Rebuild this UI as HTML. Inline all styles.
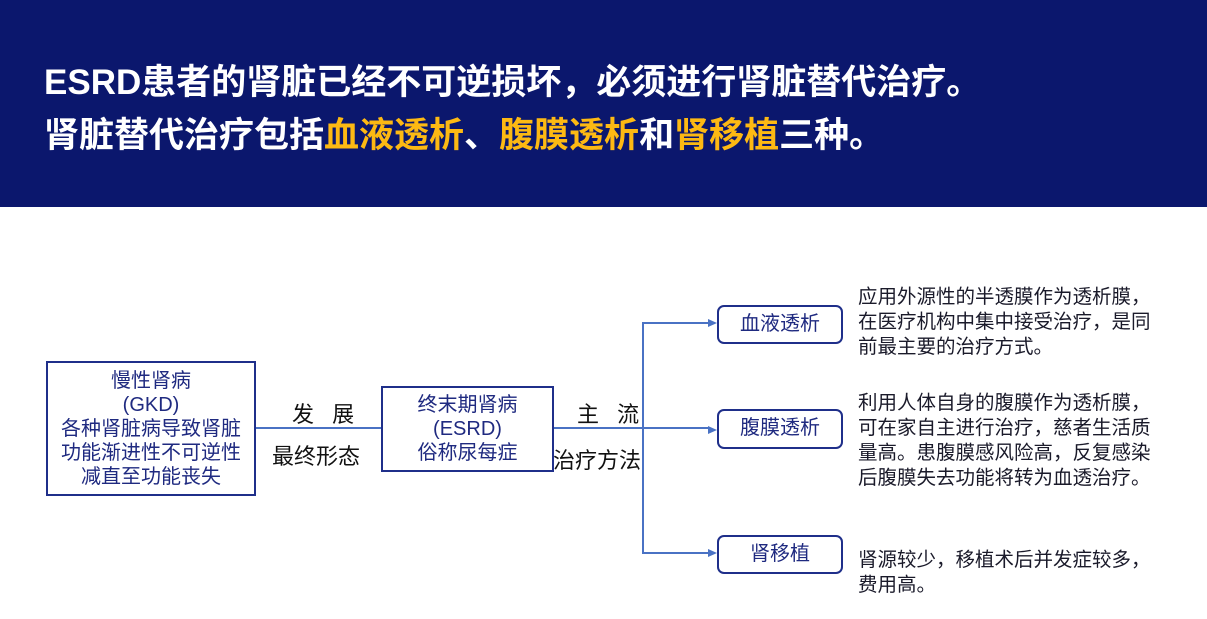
<!DOCTYPE html>
<html><head><meta charset="utf-8"><style>
body{margin:0;width:1207px;height:619px;background:#fff;position:relative;overflow:hidden;font-family:"Liberation Sans","Noto Sans CJK SC",sans-serif}
.hd{position:absolute;left:0;top:0;width:1207px;height:207px;background:#0b176d}
.t{position:absolute;left:44px;color:#fff;font-weight:bold;font-size:35px;white-space:nowrap}
.y{color:#fdb913}
.b{position:absolute;border:2px solid #1f2f8a;box-sizing:border-box;color:#1f2a80;text-align:center;font-size:20px;line-height:24px;white-space:nowrap}
.r{border-radius:7px;line-height:34px}
.l{position:absolute;font-size:22px;color:#111;white-space:nowrap}
.d{position:absolute;left:858px;font-size:19.5px;line-height:25px;color:#1a1a2a;white-space:nowrap}
</style></head><body>
<div class="hd"></div>
<div class="t" style="top:54px">ESRD患者的肾脏已经不可逆损坏，必须进行肾脏替代治疗。</div>
<div class="t" style="top:107px">肾脏替代治疗包括<span class="y">血液透析</span>、<span class="y">腹膜透析</span>和<span class="y">肾移植</span>三种。</div>
<svg style="position:absolute;left:0;top:0" width="1207" height="619">
<g stroke="#4a72c4" stroke-width="2" fill="none">
<line x1="255" y1="428" x2="381" y2="428"/>
<line x1="553" y1="428" x2="710" y2="428"/>
<polyline points="710,323 643,323 643,553 710,553"/>
</g>
<g fill="#4a72c4">
<polygon points="717,323 708,319 708,327"/>
<polygon points="717,430 708,426 708,434"/>
<polygon points="717,553 708,549 708,557"/>
</g>
</svg>
<div class="b" style="left:46px;top:361px;width:210px;height:135px;padding-top:6px">慢性肾病<br>(GKD)<br>各种肾脏病导致肾脏<br>功能渐进性不可逆性<br>减直至功能丧失</div>
<div class="b" style="left:381px;top:386px;width:173px;height:86px;padding-top:5px">终末期肾病<br>(ESRD)<br>俗称尿每症</div>
<div class="l" style="left:292px;top:397px;letter-spacing:6px">发 展</div>
<div class="l" style="left:272px;top:439px">最终形态</div>
<div class="l" style="left:577px;top:397px;letter-spacing:6px">主 流</div>
<div class="l" style="left:553px;top:443px">治疗方法</div>
<div class="b r" style="left:717px;top:305px;width:126px;height:39px">血液透析</div>
<div class="b r" style="left:717px;top:409px;width:126px;height:40px">腹膜透析</div>
<div class="b r" style="left:717px;top:535px;width:126px;height:39px">肾移植</div>
<div class="d" style="top:285px">应用外源性的半透膜作为透析膜，<br>在医疗机构中集中接受治疗，是同<br>前最主要的治疗方式。</div>
<div class="d" style="top:391px">利用人体自身的腹膜作为透析膜，<br>可在家自主进行治疗，慈者生活质<br>量高。患腹膜感风险高，反复感染<br>后腹膜失去功能将转为血透治疗。</div>
<div class="d" style="top:548px">肾源较少，移植术后并发症较多，<br>费用高。</div>
</body></html>
